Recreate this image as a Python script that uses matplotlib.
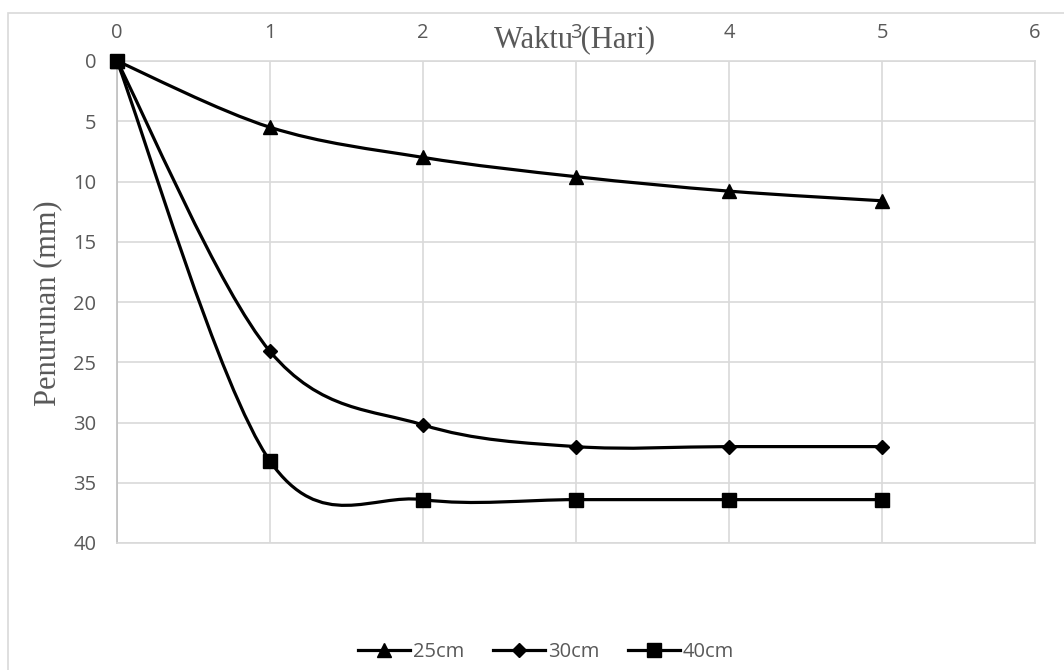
import numpy as np
import matplotlib
matplotlib.use("Agg")
import matplotlib.pyplot as plt
from matplotlib.path import Path
from matplotlib.patches import PathPatch, Rectangle
from matplotlib.lines import Line2D

# Settlement readings per day for each footing depth
days = [0, 1, 2, 3, 4, 5]
s_25cm = [0, 5.5, 8.0, 9.6, 10.8, 11.6]
s_30cm = [0, 24.1, 30.2, 32.0, 32.0, 32.0]
s_40cm = [0, 33.2, 36.4, 36.4, 36.4, 36.4]
series_labels = ["25cm", "30cm", "40cm"]
x_ticks = [0, 1, 2, 3, 4, 5, 6]
y_ticks = [0, 5, 10, 15, 20, 25, 30, 35, 40]

GRID = "#d9d9d9"
TEXT = "#595959"
TICK_FONT = ["Open Sans", "DejaVu Sans"]
TITLE_FONT = ["Liberation Serif", "DejaVu Serif"]


def smooth_path(xs, ys):
    """Cubic Bezier path through points (spreadsheet-style smoothed line)."""
    pts = np.column_stack([xs, ys]).astype(float)
    n = len(pts)
    verts = [pts[0]]
    codes = [Path.MOVETO]
    for i in range(n - 1):
        p0 = pts[i - 1] if i > 0 else pts[i]
        p1 = pts[i]
        p2 = pts[i + 1]
        p3 = pts[i + 2] if i + 2 < n else pts[i + 1]
        c1 = p1 + (p2 - p0) / 6.0
        c2 = p2 - (p3 - p1) / 6.0
        verts += [c1, c2, p2]
        codes += [Path.CURVE4] * 3
    return Path(verts, codes)


fig = plt.figure(figsize=(10.64, 6.70), dpi=100)
W, H = 1064, 670
ax = fig.add_axes([117 / W, 1 - 543 / H, (1035 - 117) / W, (543 - 61) / H])

# outer chart frame
fig.patches.append(Rectangle((8 / W, -0.1), 1.2, 1 - 13 / H + 0.1,
                             transform=fig.transFigure, fill=False,
                             edgecolor=GRID, linewidth=1.2, zorder=0))

ax.set_xlim(0, 6)
ax.set_ylim(40, 0)
ax.set_xticks(x_ticks)
ax.set_yticks(y_ticks)
ax.xaxis.tick_top()
ax.tick_params(length=0, colors=TEXT, labelsize=14.5)
ax.tick_params(axis="x", pad=13)
ax.tick_params(axis="y", pad=15)
for lab in ax.get_xticklabels() + ax.get_yticklabels():
    lab.set_fontfamily(TICK_FONT)
ax.grid(True, color=GRID, linewidth=1.2)
ax.set_axisbelow(True)
for sp in ax.spines.values():
    sp.set_color(GRID)
    sp.set_linewidth(1.2)
ax.spines["left"].set_color("#bfbfbf")

markers = ["^", "D", "s"]
msizes = [10, 7.5, 10]
LW = 2.3
all_series = [s_25cm, s_30cm, s_40cm]
handles = []
for vals, m, ms, lab in zip(all_series, markers, msizes, series_labels):
    patch = PathPatch(smooth_path(days, vals), facecolor="none",
                      edgecolor="black", linewidth=LW, zorder=3)
    ax.add_patch(patch)
    ax.plot(days, vals, linestyle="none", marker=m, markersize=ms,
            color="black", zorder=4, clip_on=False)
    handles.append(Line2D([], [], color="black", linewidth=LW, marker=m,
                          markersize=ms, label=lab))

fig.text(575 / W, 1 - 40 / H, "Waktu (Hari)", ha="center", va="center",
         fontsize=22, color=TEXT, family=TITLE_FONT)
fig.text(48 / W, 1 - 303 / H, "Penurunan (mm)", ha="center", va="center",
         rotation=90, fontsize=22, color=TEXT, family=TITLE_FONT)

leg = fig.legend(handles=handles, loc="center", ncol=3,
                 bbox_to_anchor=(546 / W, 1 - 652 / H), frameon=False,
                 prop={"family": TICK_FONT, "size": 14.5},
                 handlelength=2.6, columnspacing=1.4, handletextpad=0.15)
for t in leg.get_texts():
    t.set_color(TEXT)

fig.savefig("out.png", dpi=100)
